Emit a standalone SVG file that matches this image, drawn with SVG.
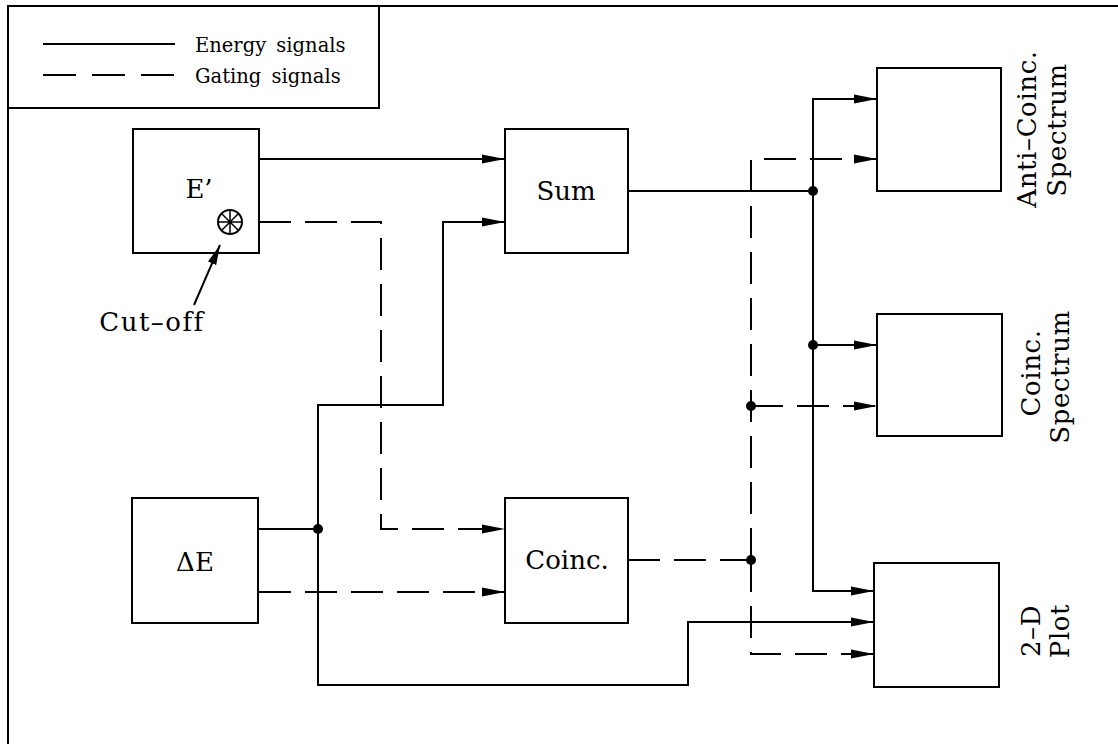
<svg xmlns="http://www.w3.org/2000/svg" width="1118" height="744" viewBox="0 0 1118 744">
<style>
  .bg{fill:#fff}
  .box{fill:#fff;stroke:#000;stroke-width:2}
  .ln{fill:none;stroke:#000;stroke-width:2}
  .ds{fill:none;stroke:#000;stroke-width:2;stroke-dasharray:32 14}
  .arr{marker-end:url(#ah)}
  .dot{fill:#000}
  .lbl{font-family:"DejaVu Serif","Liberation Serif",serif;fill:#000;text-anchor:middle}
  .rot{font-size:26px;letter-spacing:0.6px}
  .leg{font-family:"DejaVu Serif","Liberation Serif",serif;fill:#000;font-size:19.5px;word-spacing:4px}
</style>
<defs>
  <marker id="ah" markerUnits="userSpaceOnUse" markerWidth="23" markerHeight="10" refX="23" refY="5" orient="auto">
    <path d="M0,0.6 L23,5 L0,9.4 z" fill="#000"/>
  </marker>
  <marker id="ah2" markerUnits="userSpaceOnUse" markerWidth="20" markerHeight="10" refX="20" refY="5" orient="auto">
    <path d="M0,0.5 L20,5 L0,9.5 z" fill="#000"/>
  </marker>
</defs>
<rect class="bg" x="0" y="0" width="1118" height="744"/>

<g id="frame">
  <path class="ln" d="M8,744 V6 H1118"/>
</g>

<g id="legend">
  <rect class="box" x="8" y="6" width="371" height="102"/>
  <line class="ln" x1="43" y1="44" x2="175" y2="44"/>
  <line class="ln" x1="43" y1="75" x2="175" y2="75" style="stroke-dasharray:33 16"/>
  <text class="leg" x="195" y="52">Energy signals</text>
  <text class="leg" x="195" y="83">Gating signals</text>
</g>

<g id="connectors">
  <!-- energy (solid) -->
  <path class="ln arr" d="M259,159 H505"/>
  <path class="ln" d="M259,529 H318"/>
  <path class="ln arr" d="M318,529 V405 H443 V222 H505"/>
  <path class="ln arr" d="M318,529 V685 H688 V622 H874"/>
  <path class="ln" d="M628,191 H813"/>
  <path class="ln arr" d="M813,191 V99 H877"/>
  <path class="ln arr" d="M813,345 H877"/>
  <path class="ln arr" d="M813,191 V591 H874"/>
  <!-- gating (dashed) -->
  <path class="ds arr" d="M259,222 H381 V529 H505"/>
  <path class="ds arr" d="M259,592 H505"/>
  <path class="ds" d="M628,560 H751"/>
  <path class="ds arr" d="M751,560 V159 H877"/>
  <path class="ds arr" d="M751,406 H877"/>
  <path class="ds arr" d="M751,560 V654 H874"/>
  <!-- junction dots -->
  <circle class="dot" cx="318" cy="529" r="5"/>
  <circle class="dot" cx="813" cy="191" r="5"/>
  <circle class="dot" cx="813" cy="345" r="5"/>
  <circle class="dot" cx="751" cy="406" r="5"/>
  <circle class="dot" cx="751" cy="560" r="5"/>
</g>

<g id="node-eprime">
  <rect class="box" x="133" y="129" width="126" height="124"/>
  <text class="lbl" x="199" y="198" font-size="26">E’</text>
  <circle cx="230" cy="222" r="12" fill="none" stroke="#000" stroke-width="2"/>
  <path d="M218,222 H242 M230,210 V234 M221.5,213.5 L238.5,230.5 M221.5,230.5 L238.5,213.5" stroke="#000" stroke-width="1.5"/>
</g>

<g id="cutoff">
  <line class="ln" x1="194" y1="305" x2="220" y2="245" marker-end="url(#ah2)"/>
  <text class="lbl" x="152" y="331" font-size="26" letter-spacing="1.5">Cut–off</text>
</g>

<g id="node-sum">
  <rect class="box" x="505" y="129" width="123" height="124"/>
  <text class="lbl" x="566" y="200" font-size="26">Sum</text>
</g>

<g id="node-deltae">
  <rect class="box" x="132" y="498" width="126" height="125"/>
  <text class="lbl" x="195" y="571" font-size="26">ΔE</text>
</g>

<g id="node-coinc">
  <rect class="box" x="505" y="498" width="123" height="125"/>
  <text class="lbl" x="567" y="569" font-size="26">Coinc.</text>
</g>

<g id="node-anticoinc">
  <rect class="box" x="877" y="68" width="124" height="123"/>
  <text class="lbl rot" transform="translate(1036,129) rotate(-90)">Anti–Coinc.</text>
  <text class="lbl rot" transform="translate(1066,130) rotate(-90)">Spectrum</text>
</g>

<g id="node-coincspec">
  <rect class="box" x="877" y="314" width="125" height="122"/>
  <text class="lbl rot" transform="translate(1040,373) rotate(-90)">Coinc.</text>
  <text class="lbl rot" transform="translate(1069,377) rotate(-90)">Spectrum</text>
</g>

<g id="node-2dplot">
  <rect class="box" x="874" y="563" width="125" height="124"/>
  <text class="lbl rot" transform="translate(1040,631) rotate(-90)">2–D</text>
  <text class="lbl rot" transform="translate(1069,631) rotate(-90)">Plot</text>
</g>
</svg>
